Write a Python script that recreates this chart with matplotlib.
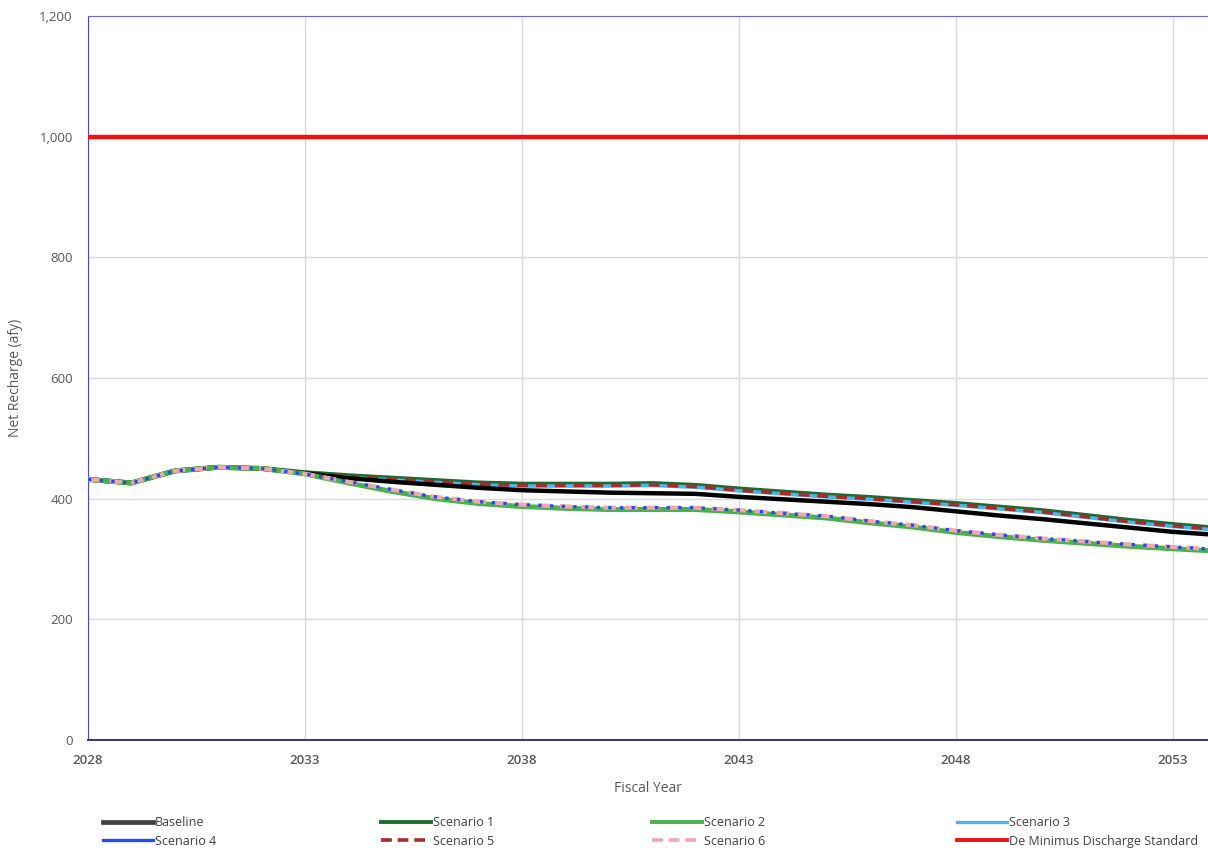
import matplotlib
matplotlib.use("Agg")
import matplotlib.pyplot as plt
from matplotlib.lines import Line2D
from matplotlib.ticker import FuncFormatter

plt.rcParams['font.family'] = ['Open Sans', 'DejaVu Sans']

years = list(range(2028, 2055))

baseline = [432, 426, 446, 452, 450, 442, 434, 428, 423, 418, 414, 412, 410, 409, 408,
            403, 399, 395, 391, 386, 379, 372, 366, 359, 352, 345, 340]
scenario1 = [432, 426, 446, 452, 450, 443, 438, 434, 430, 426, 424, 424, 424, 425, 422,
             416, 411, 406, 402, 397, 392, 386, 380, 372, 364, 357, 351]
scenario2 = [432, 426, 446, 452, 450, 441, 426, 412, 400, 392, 387, 384, 382, 382, 382,
             378, 373, 368, 360, 353, 344, 337, 331, 326, 321, 317, 313]
scenario3 = [432, 426, 446, 452, 450, 442, 435, 431, 427, 423, 421, 421, 421, 422, 419,
             413, 408, 403, 399, 394, 389, 383, 377, 369, 361, 354, 348]
scenario4 = [432, 426, 446, 452, 450, 441, 428, 415, 403, 395, 390, 387, 385, 385, 385,
             381, 376, 371, 363, 356, 347, 340, 334, 329, 324, 320, 316]
scenario5 = [432, 426, 446, 452, 450, 442, 436, 432, 428, 424, 422, 422, 422, 423, 420,
             414, 409, 404, 400, 395, 390, 384, 378, 370, 362, 355, 349]
scenario6 = [432, 426, 446, 452, 450, 441, 428, 415, 403, 395, 390, 387, 385, 385, 385,
             381, 376, 371, 363, 356, 347, 340, 334, 329, 324, 320, 316]
de_minimus = [1000] * len(years)

y_ticks = [0, 200, 400, 600, 800, 1000, 1200]
x_ticks = [2028, 2033, 2038, 2043, 2048, 2053]

fig = plt.figure(figsize=(12.08, 8.57), dpi=100)
ax = fig.add_axes([88 / 1208, 117 / 857, 1 - 88 / 1208, 724 / 857])

c_base = '#000000'
c_s1 = '#1E6B2E'
c_s2 = '#4CAF50'
c_s3 = '#4FB3E8'
c_s4 = '#2B4BE0'
c_s5 = '#A52A2A'
c_s6 = '#F0A8B0'
c_red = '#EE1111'

ax.plot(years, de_minimus, color=c_red, lw=3.2, zorder=3)
ax.plot(years, scenario1, color=c_s1, lw=3.6, zorder=3)
ax.plot(years, scenario3, color=c_s3, lw=2.6, zorder=3.1)
ax.plot(years, scenario5, color=c_s5, lw=2.6, ls=(0, (3, 2.2)), zorder=3.2)
ax.plot(years, baseline, color=c_base, lw=3.2, zorder=3.3)
ax.plot(years, scenario2, color=c_s2, lw=3.6, zorder=3.4)
ax.plot(years, scenario6, color=c_s6, lw=3.0, ls=(0, (3, 2.2)), zorder=3.5)
ax.plot(years, scenario4, color=c_s4, lw=2.4, ls=(0, (1, 2.5)), zorder=3.6)

ax.set_xlim(2028, 2028 + (1208 - 88) / 43.4)
ax.set_ylim(0, 1200)
ax.set_xticks(x_ticks)
ax.set_yticks(y_ticks)
ax.yaxis.set_major_formatter(FuncFormatter(lambda v, p: f"{int(v):,}"))
ax.grid(True, color='#D9D9D9', lw=1)
ax.set_axisbelow(True)
ax.tick_params(length=0)
for lab in ax.get_xticklabels():
    lab.set_fontweight('semibold')
    lab.set_color('#595959')
    lab.set_fontsize(9.5)
for lab in ax.get_yticklabels():
    lab.set_color('#595959')
    lab.set_fontsize(9.5)
ax.tick_params(axis='y', pad=11)
ax.tick_params(axis='x', pad=10)

ax.spines['left'].set_color('#4A4AC8')
ax.spines['top'].set_color('#6A6AD0')
ax.spines['bottom'].set_color('#404058')
ax.spines['bottom'].set_linewidth(1.5)
ax.spines['right'].set_visible(False)

ax.set_xlabel('Fiscal Year', fontsize=10, color='#595959', labelpad=10)
ax.set_ylabel('Net Recharge (afy)', fontsize=10, color='#595959', labelpad=12)

# legend columns
cols = [
    [(Line2D([], [], color='#404040', lw=3.4), 'Baseline'),
     (Line2D([], [], color=c_s4, lw=2.4), 'Scenario 4')],
    [(Line2D([], [], color=c_s1, lw=2.8), 'Scenario 1'),
     (Line2D([], [], color=c_s5, lw=2.6, ls=(0, (3, 1.6))), 'Scenario 5')],
    [(Line2D([], [], color=c_s2, lw=2.8), 'Scenario 2'),
     (Line2D([], [], color=c_s6, lw=2.6, ls=(0, (3, 1.6))), 'Scenario 6')],
    [(Line2D([], [], color=c_s3, lw=2.4), 'Scenario 3'),
     (Line2D([], [], color=c_red, lw=2.8), 'De Minimus Discharge Standard')],
]
col_x = [103, 381, 652, 957]
for cx, entries in zip(col_x, cols):
    leg = fig.legend([e[0] for e in entries], [e[1] for e in entries],
                     loc='upper left', bbox_to_anchor=(cx / 1208, 1 - 816 / 857),
                     frameon=False, fontsize=9, handlelength=4.0, handletextpad=0.15,
                     labelspacing=0.45, borderaxespad=0, borderpad=0.0)
    for t in leg.get_texts():
        t.set_color('#404040')

fig.savefig('out.png', dpi=100)
